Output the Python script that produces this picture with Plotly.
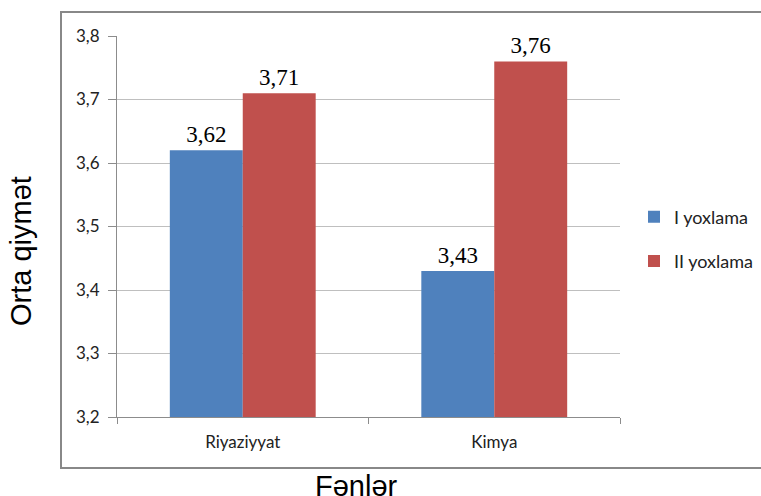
import plotly.graph_objects as go

# Subjects and average scores for the two assessments
subjects = ["Riyaziyyat", "Kimya"]
first_check = [3.62, 3.43]
second_check = [3.71, 3.76]
series_names = ["I yoxlama", "II yoxlama"]
y_ticks = [3.2, 3.3, 3.4, 3.5, 3.6, 3.7, 3.8]

blue = "#4F81BD"
red = "#C0504D"
label_font = dict(family="Liberation Serif, Times New Roman, serif", size=23, color="#000000")
tick_font = dict(family="Lato, Open Sans, sans-serif", size=17, color="#222222")
legend_font = dict(family="Lato, Open Sans, sans-serif", size=18, color="#222222")
title_font = dict(family="Liberation Sans, Arial, sans-serif", size=29, color="#000000")

fig = go.Figure()
for name, vals, col in [(series_names[0], first_check, blue), (series_names[1], second_check, red)]:
    fig.add_trace(go.Bar(
        name=name, x=subjects, y=vals, marker=dict(color=col, line=dict(width=0)),
        texttemplate="%{y:.2f}", textposition="outside", textfont=label_font,
        cliponaxis=False, legendgroup=name,
    ))

W, H = 761, 496
L, R, T, B = 117, 141, 36, 79
pw, ph = W - L - R, H - T - B

def px(x):
    return (x - L) / pw

def py(y):
    return (H - B - y) / ph

fig.update_layout(
    width=W, height=H,
    margin=dict(l=L, r=R, t=T, b=B, pad=0, autoexpand=False),
    paper_bgcolor="white", plot_bgcolor="white",
    separators=",.",
    barmode="group", bargap=0.42, bargroupgap=0,
    font=tick_font,
    showlegend=True,
    legend=dict(
        xref="container", yref="container",
        x=634 / W, y=(H - 239) / H, xanchor="left", yanchor="middle",
        traceorder="grouped", tracegroupgap=18,
        font=legend_font, itemwidth=30, bgcolor="rgba(0,0,0,0)",
    ),
    xaxis=dict(
        showline=True, linecolor="#8c8c8c", linewidth=1,
        ticks="outside", tickson="boundaries", ticklen=6, tickcolor="#8c8c8c",
        tickfont=tick_font, ticklabelstandoff=10, showgrid=False,
    ),
    yaxis=dict(
        range=[3.2, 3.8], tickvals=y_ticks, tickformat=".1f",
        showline=True, linecolor="#8c8c8c", linewidth=1,
        ticks="outside", ticklen=8, tickcolor="#8c8c8c",
        showgrid=True, gridcolor="#bfbfbf", gridwidth=1,
        tickfont=tick_font, ticklabelstandoff=5, zeroline=False,
    ),
    shapes=[dict(
        type="rect", xref="paper", yref="paper",
        x0=px(61), x1=px(770), y0=py(468), y1=py(12),
        line=dict(color="#888888", width=2), fillcolor="rgba(0,0,0,0)", layer="below",
    )],
    annotations=[
        dict(text="Orta qiymət", xref="paper", yref="paper", x=px(21), y=py(251),
             textangle=-90, showarrow=False, xanchor="center", yanchor="middle",
             font=title_font),
        dict(text="Fənlər", xref="paper", yref="paper", x=px(356), y=py(468),
             showarrow=False, xanchor="center", yanchor="top",
             font=title_font),
    ],
)

fig.write_html("out.html")
